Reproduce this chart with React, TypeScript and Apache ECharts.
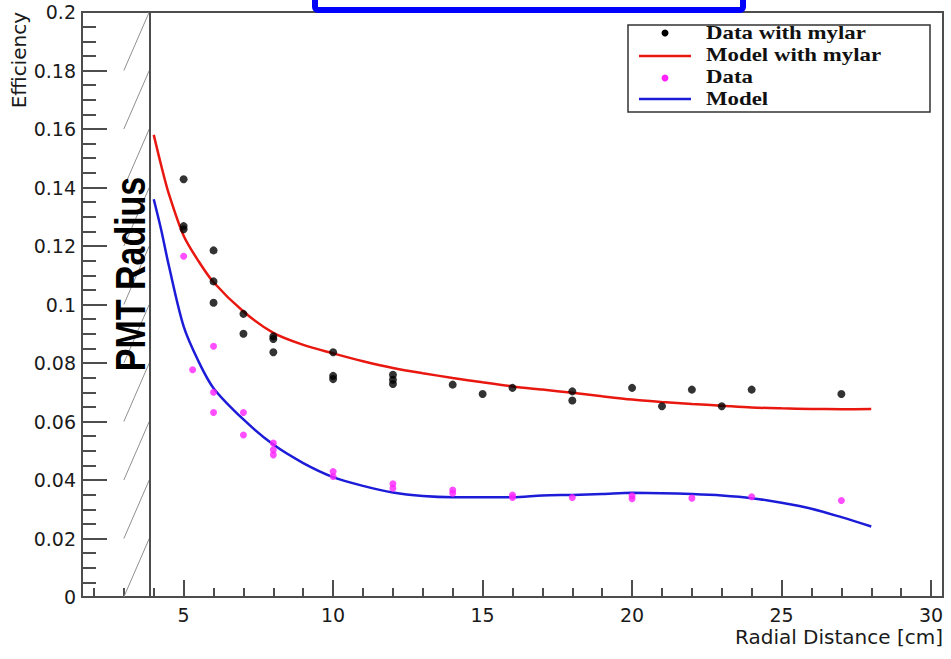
import React, { useEffect, useRef } from "react";
import * as echarts from "echarts";

// ---- data ----
const dataWithMylar: [number, number][] = [
  [5, 0.1428], [5, 0.1268], [5, 0.1257],
  [6, 0.1185], [6, 0.1079], [6, 0.1006],
  [7, 0.0968], [7, 0.09],
  [8, 0.0891], [8, 0.0882], [8, 0.0837],
  [10, 0.0837], [10, 0.0756], [10, 0.0745],
  [12, 0.076], [12, 0.0743], [12, 0.0728],
  [14, 0.0726], [15, 0.0694], [16, 0.0715],
  [18, 0.0703], [18, 0.0672],
  [20, 0.0715], [21, 0.0652], [22, 0.0709], [23, 0.0652], [24, 0.0709],
  [27, 0.0694],
];

const dataPlain: [number, number][] = [
  [5, 0.1165], [5.3, 0.0777],
  [6, 0.0857], [6, 0.07], [6, 0.0631],
  [7, 0.0631], [7, 0.0554],
  [8, 0.0526], [8, 0.0503], [8, 0.0486],
  [10, 0.0429], [10, 0.0412],
  [12, 0.0387], [12, 0.0372],
  [14, 0.0366], [14, 0.0355],
  [16, 0.0349], [16, 0.034],
  [18, 0.034],
  [20, 0.0346], [20, 0.0336],
  [22, 0.0338], [24, 0.0343], [27, 0.033],
];

const modelX = [4, 4.25, 4.5, 5, 5.5, 6, 7, 8, 9, 10, 11, 12, 13, 14, 15, 16, 17, 18, 19, 20, 21, 22, 23, 24, 25, 26, 27, 28];
const modelWithMylarY = [0.158, 0.1475, 0.138, 0.1235, 0.1148, 0.1076, 0.0976, 0.0903, 0.0862, 0.0833, 0.0806, 0.0783, 0.0765, 0.0749, 0.0734, 0.072, 0.0709, 0.0698, 0.0686, 0.0675, 0.0667, 0.066, 0.0654, 0.0648, 0.0645, 0.0643, 0.0642, 0.0643];
const modelY = [0.136, 0.1255, 0.1135, 0.0925, 0.0805, 0.0714, 0.0607, 0.0521, 0.0458, 0.041, 0.038, 0.0357, 0.0345, 0.0341, 0.0341, 0.0341, 0.0347, 0.0349, 0.0352, 0.0356, 0.0355, 0.0352, 0.0347, 0.0338, 0.0322, 0.0302, 0.0273, 0.0241];

const xMajorTicks = [5, 10, 15, 20, 25, 30];
const xMinorTicks = [2, 3, 4, 6, 7, 8, 9, 11, 12, 13, 14, 16, 17, 18, 19, 21, 22, 23, 24, 26, 27, 28, 29];

const pmtRadius = 3.85;
const hatchStartX = 3;
const hatchStep = 0.02;
const hatchLevels = [0, 0.02, 0.04, 0.06, 0.08, 0.1, 0.12, 0.14, 0.16, 0.18];

const legendNames = ["Data with mylar", "Model with mylar", "Data", "Model"];

const AXIS = "#4d4d4d";
const RED = "#e8170f";
const BLUE = "#1c1cd8";
const MAGENTA = "#ff22ff";
const LABEL = "#1a1a1a";

export default function App() {
  const ref = useRef<HTMLDivElement>(null);

  useEffect(() => {
    if (!ref.current) return;
    const chart = echarts.init(ref.current, null, { renderer: "svg" });
    const tickStyle = { color: AXIS, width: 2 };
    const legendFont = {
      fontFamily: "Liberation Serif",
      fontWeight: "bold",
      fontSize: 18,
      fill: "#111",
      align: "left",
      verticalAlign: "middle",
    };
    const option: any = {
      animation: false,
      backgroundColor: "#fff",
      grid: {
        left: 82,
        right: 8,
        top: 12,
        bottom: 62,
        show: true,
        borderColor: AXIS,
        borderWidth: 2,
        backgroundColor: "transparent",
      },
      xAxis: [
        {
          type: "value",
          min: 1.6,
          max: 30.4,
          position: "bottom",
          axisLine: { show: true, onZero: false, lineStyle: tickStyle },
          axisTick: { show: true, inside: true, length: 17, customValues: xMajorTicks, lineStyle: tickStyle },
          axisLabel: {
            customValues: xMajorTicks,
            fontFamily: "DejaVu Sans",
            fontSize: 19,
            color: LABEL,
            margin: 8,
          },
          splitLine: { show: false },
        },
        {
          type: "value",
          min: 1.6,
          max: 30.4,
          position: "bottom",
          axisLine: { show: false, onZero: false },
          axisTick: { show: true, inside: true, length: 9, customValues: xMinorTicks, lineStyle: tickStyle },
          axisLabel: { show: false },
          splitLine: { show: false },
        },
      ],
      yAxis: {
        type: "value",
        min: 0,
        max: 0.2,
        interval: 0.02,
        axisLine: { show: true, onZero: false, lineStyle: tickStyle },
        axisTick: { show: true, inside: true, length: 25, lineStyle: tickStyle },
        minorTick: { show: true, splitNumber: 4, length: 14, lineStyle: tickStyle },
        axisLabel: { fontFamily: "DejaVu Sans", fontSize: 19, color: LABEL, margin: 6 },
        splitLine: { show: false },
      },
      series: [
        {
          name: "hatch",
          type: "lines",
          coordinateSystem: "cartesian2d",
          xAxisIndex: 0,
          yAxisIndex: 0,
          silent: true,
          z: 1,
          lineStyle: { color: "#8f8f8f", width: 1, opacity: 1 },
          data: hatchLevels.map((l) => ({ coords: [[hatchStartX, l], [pmtRadius, l + hatchStep]] })),
        },
        {
          name: "PMT Radius",
          type: "lines",
          coordinateSystem: "cartesian2d",
          xAxisIndex: 0,
          yAxisIndex: 0,
          silent: true,
          z: 2,
          lineStyle: { color: AXIS, width: 2, opacity: 1 },
          data: [{ coords: [[pmtRadius, 0], [pmtRadius, 0.2]] }],
        },
        {
          name: legendNames[1],
          type: "line",
          xAxisIndex: 0,
          data: modelX.map((x, i) => [x, modelWithMylarY[i]]),
          symbol: "none",
          smooth: 0.3,
          lineStyle: { color: RED, width: 2.5 },
          z: 3,
        },
        {
          name: legendNames[3],
          type: "line",
          xAxisIndex: 0,
          data: modelX.map((x, i) => [x, modelY[i]]),
          symbol: "none",
          smooth: 0.3,
          lineStyle: { color: BLUE, width: 2.5 },
          z: 3,
        },
        {
          name: legendNames[0],
          type: "scatter",
          xAxisIndex: 0,
          data: dataWithMylar,
          symbol: "circle",
          symbolSize: 8,
          itemStyle: { color: "#000" },
          z: 4,
        },
        {
          name: legendNames[2],
          type: "scatter",
          xAxisIndex: 0,
          data: dataPlain,
          symbol: "circle",
          symbolSize: 7,
          itemStyle: { color: MAGENTA },
          z: 4,
        },
      ],
      graphic: [
        {
          type: "rect",
          z: 100,
          shape: { x: 315, y: -20, width: 428, height: 30, r: 3 },
          style: { fill: "#fff", stroke: "#0000ff", lineWidth: 6 },
        },
        {
          type: "rect",
          z: 100,
          shape: { x: 628, y: 25, width: 302, height: 87 },
          style: { fill: "#fff", stroke: "#333", lineWidth: 1.5 },
        },
        { type: "circle", z: 101, shape: { cx: 665, cy: 33, r: 3.5 }, style: { fill: "#000" } },
        { type: "line", z: 101, shape: { x1: 639, y1: 56, x2: 691, y2: 56 }, style: { stroke: RED, lineWidth: 2.5 } },
        { type: "circle", z: 101, shape: { cx: 665, cy: 78, r: 3.5 }, style: { fill: MAGENTA } },
        { type: "line", z: 101, shape: { x1: 639, y1: 99, x2: 691, y2: 99 }, style: { stroke: BLUE, lineWidth: 2.5 } },
        { type: "text", z: 101, x: 706, y: 33, scaleX: 1.27, style: { ...legendFont, text: legendNames[0] } },
        { type: "text", z: 101, x: 706, y: 55, scaleX: 1.27, style: { ...legendFont, text: legendNames[1] } },
        { type: "text", z: 101, x: 706, y: 77, scaleX: 1.27, style: { ...legendFont, text: legendNames[2] } },
        { type: "text", z: 101, x: 706, y: 99, scaleX: 1.27, style: { ...legendFont, text: legendNames[3] } },
        {
          type: "text",
          z: 50,
          x: 130,
          y: 274,
          rotation: Math.PI / 2,
          scaleY: 1.27,
          style: {
            text: "PMT Radius",
            fontFamily: "Liberation Sans",
            fontWeight: "bold",
            fontSize: 34,
            fill: "#000",
            align: "center",
            verticalAlign: "middle",
          },
        },
        {
          type: "text",
          z: 50,
          x: 19,
          y: 12,
          rotation: Math.PI / 2,
          style: {
            text: "Efficiency",
            fontFamily: "DejaVu Sans",
            fontSize: 20,
            fill: LABEL,
            align: "right",
            verticalAlign: "middle",
          },
        },
        {
          type: "text",
          z: 50,
          x: 943,
          y: 637,
          style: {
            text: "Radial Distance [cm]",
            fontFamily: "DejaVu Sans",
            fontSize: 20,
            fill: LABEL,
            align: "right",
            verticalAlign: "middle",
          },
        },
      ],
    };
    chart.setOption(option);
    return () => chart.dispose();
  }, []);

  return (
    <div
      ref={ref}
      style={{ position: "absolute", left: 0, top: 0, width: 951, height: 659, background: "#fff" }}
    />
  );
}
